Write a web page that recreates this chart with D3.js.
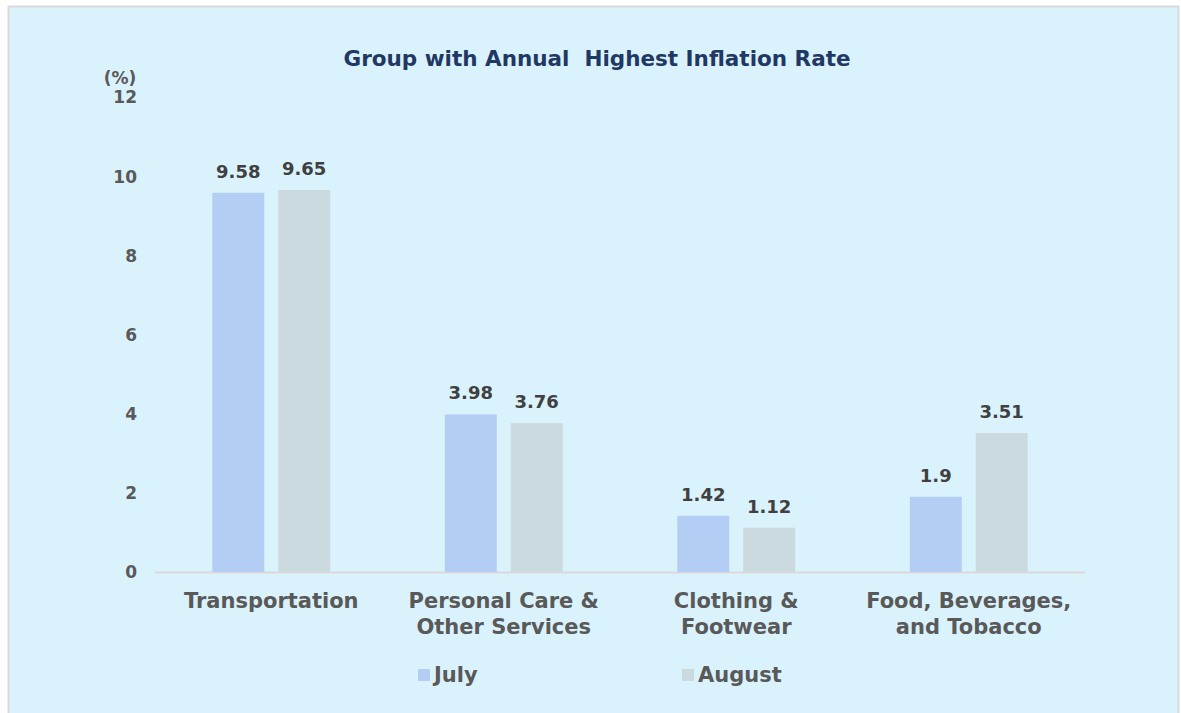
<!DOCTYPE html>
<html>
<head>
<meta charset="utf-8">
<script src="https://cdn.jsdelivr.net/npm/d3@7"></script>
<style>
  html, body { margin: 0; padding: 0; background: #ffffff; }
  svg text { font-family: "DejaVu Sans", Verdana, sans-serif; font-weight: bold; }
</style>
</head>
<body>
<svg id="chart" width="1181" height="713"></svg>
<script>
// chart data
var categories = [["Transportation"], ["Personal Care &", "Other Services"], ["Clothing &", "Footwear"], ["Food, Beverages,", "and Tobacco"]];
var seriesNames = ["July", "August"];
var july = [9.58, 3.98, 1.42, 1.9];
var august = [9.65, 3.76, 1.12, 3.51];
var yTicks = [0, 2, 4, 6, 8, 10, 12];
var colors = ["#b4cdf5", "#cbdadf"];

var svg = d3.select("#chart");
var W = 1181, H = 713;
var margin = {left: 155, right: 96, top: 97, bottom: 141};

// panel
svg.append("rect")
    .attr("x", 8.5).attr("y", 6.5)
    .attr("width", 1170).attr("height", 720)
    .attr("fill", "#daf2fc")
    .attr("stroke", "#d9d9d9").attr("stroke-width", 2);

var x0 = d3.scaleBand()
    .domain(d3.range(categories.length))
    .range([margin.left, W - margin.right]);
var x1 = d3.scaleBand()
    .domain(d3.range(seriesNames.length))
    .range([0, x0.bandwidth()])
    .paddingInner(0.212)
    .paddingOuter(0.87);
var y = d3.scaleLinear().domain([0, 12]).range([H - margin.bottom, margin.top]);

// title
svg.append("text")
    .attr("x", 597).attr("y", 66)
    .attr("text-anchor", "middle")
    .attr("fill", "#1f3864")
    .style("font-size", "21.5px")
    .attr("xml:space", "preserve")
    .text("Group with Annual  Highest Inflation Rate");

// y axis (labels only)
var yAxis = d3.axisLeft(y).tickValues(yTicks).tickSize(0).tickPadding(0);
var gy = svg.append("g")
    .attr("transform", "translate(137,0)")
    .call(yAxis);
gy.select(".domain").remove();
gy.selectAll("text")
    .attr("fill", "#595959")
    .style("font-size", "17px")
    .attr("dy", "0.35em");

svg.append("text")
    .attr("x", 120).attr("y", 84)
    .attr("text-anchor", "middle")
    .attr("fill", "#595959")
    .style("font-size", "17px")
    .text("(%)");

// baseline
svg.append("line")
    .attr("x1", margin.left).attr("x2", W - margin.right)
    .attr("y1", y(0) + 0.5).attr("y2", y(0) + 0.5)
    .attr("stroke", "#d9d9d9").attr("stroke-width", 2);

// bars
var rows = categories.map(function(c, i){ return [july[i], august[i]]; });
var groups = svg.selectAll("g.cat")
    .data(rows).enter().append("g")
    .attr("class", "cat")
    .attr("transform", function(d, i){ return "translate(" + x0(i) + ",0)"; });

groups.selectAll("rect")
    .data(function(d){ return d; })
    .enter().append("rect")
    .attr("x", function(d, j){ return x1(j); })
    .attr("y", function(d){ return y(d); })
    .attr("width", x1.bandwidth())
    .attr("height", function(d){ return y(0) - y(d); })
    .attr("fill", function(d, j){ return colors[j]; });

groups.selectAll("text.val")
    .data(function(d){ return d; })
    .enter().append("text")
    .attr("class", "val")
    .attr("x", function(d, j){ return x1(j) + x1.bandwidth() / 2; })
    .attr("y", function(d){ return y(d) - 15; })
    .attr("text-anchor", "middle")
    .attr("fill", "#404040")
    .style("font-size", "18px")
    .text(function(d){ return d; });

// category labels
var xl = svg.selectAll("text.cat")
    .data(categories).enter().append("text")
    .attr("class", "cat")
    .attr("text-anchor", "middle")
    .attr("fill", "#595959")
    .style("font-size", "21px")
    .attr("transform", function(d, i){ return "translate(" + (x0(i) + x0.bandwidth() / 2) + ",608)"; });
xl.selectAll("tspan")
    .data(function(d){ return d; })
    .enter().append("tspan")
    .attr("x", 0)
    .attr("y", function(d, k){ return k * 26; })
    .text(function(d){ return d; });

// legend
var legX = [418, 682];
var leg = svg.selectAll("g.leg")
    .data(seriesNames).enter().append("g")
    .attr("class", "leg")
    .attr("transform", function(d, i){ return "translate(" + legX[i] + ",675)"; });
leg.append("rect")
    .attr("x", 0).attr("y", -6)
    .attr("width", 12).attr("height", 12)
    .attr("fill", function(d, i){ return colors[i]; });
leg.append("text")
    .attr("x", 16).attr("y", 7)
    .attr("fill", "#595959")
    .style("font-size", "21px")
    .text(function(d){ return d; });
</script>
</body>
</html>
